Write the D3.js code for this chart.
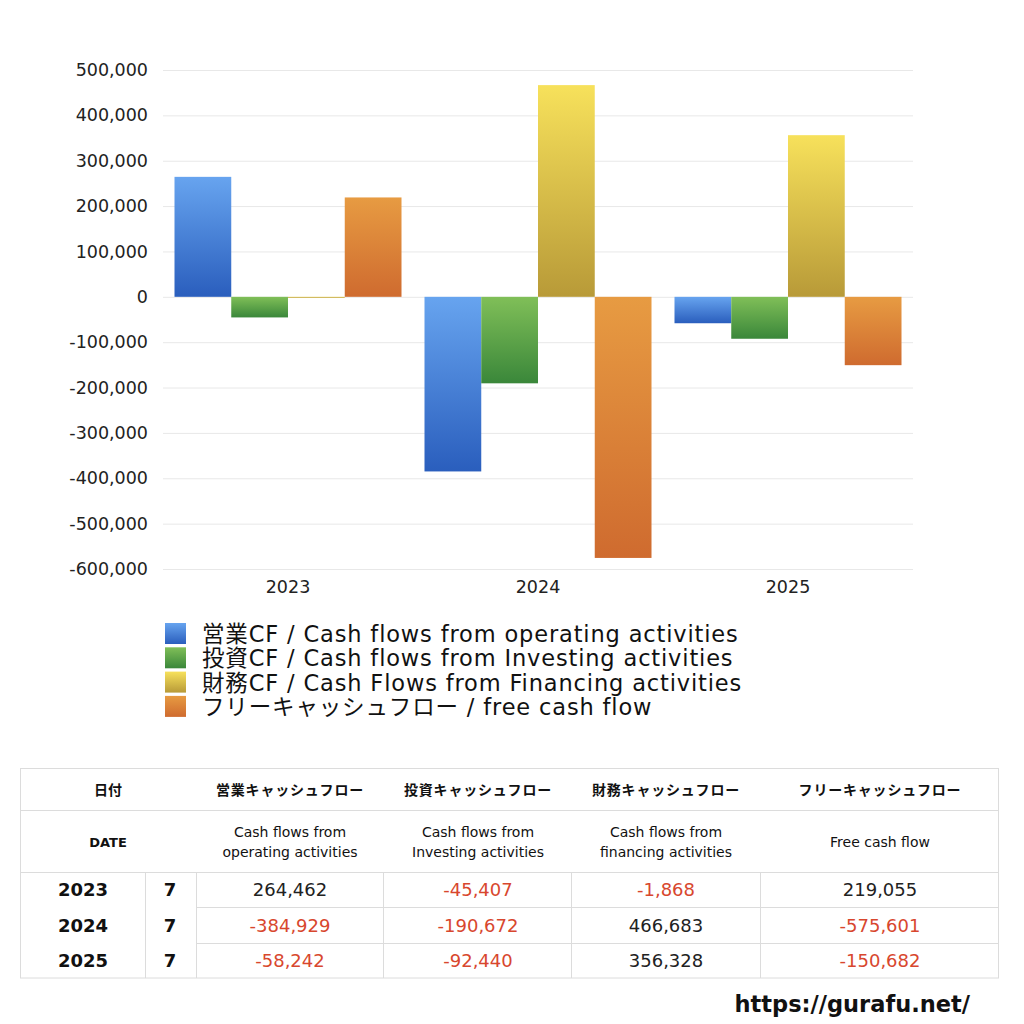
<!DOCTYPE html>
<html><head><meta charset="utf-8">
<script src="https://cdn.jsdelivr.net/npm/d3@7"></script>
<style>
html,body{margin:0;padding:0;background:#fff;}
svg text{font-family:"DejaVu Sans","Noto Sans CJK JP",sans-serif;}
</style></head>
<body><svg id="c" width="1024" height="1024"></svg>
<script>
const years = ["2023","2024","2025"];
const months = ["7","7","7"];
const operating = [264462, -384929, -58242];
const investing = [-45407, -190672, -92440];
const financing = [-1868, 466683, 356328];
const freeCF = [219055, -575601, -150682];
const yTicks = [500000,400000,300000,200000,100000,0,-100000,-200000,-300000,-400000,-500000,-600000];
const legendLabels = ["営業CF / Cash flows from operating activities","投資CF / Cash flows from Investing activities","財務CF / Cash Flows from Financing activities","フリーキャッシュフロー / free cash flow"];
const headJP = ["営業キャッシュフロー","投資キャッシュフロー","財務キャッシュフロー","フリーキャッシュフロー"];
const headEN = [["Cash flows from","operating activities"],["Cash flows from","Investing activities"],["Cash flows from","financing activities"],["Free cash flow"]];
const gradStops = [["#67a4ef","#2a5ebd"],["#80bf58","#3a873a"],["#f7e15b","#b89a38"],["#e79b42","#cf6b2f"]];

const series = [operating, investing, financing, freeCF];
const fmt = d3.formatLocale({decimal:".",thousands:",",grouping:[3],currency:["",""],minus:"-"}).format(",");
const svg = d3.select("#c");
const defs = svg.append("defs");
gradStops.forEach((g,i)=>{
  const lg = defs.append("linearGradient").attr("id","g"+i).attr("x1",0).attr("y1",0).attr("x2",0).attr("y2",1);
  lg.append("stop").attr("offset","0%").attr("stop-color",g[0]);
  lg.append("stop").attr("offset","100%").attr("stop-color",g[1]);
});

const L=163, R=913;
const y = d3.scaleLinear().domain([-600000,500000]).range([569,70]);
const x0 = d3.scaleBand().domain(years).range([L,R]).paddingInner(0.092).paddingOuter(0.046);
const x1 = d3.scaleBand().domain(d3.range(4)).range([0,x0.bandwidth()]);

svg.append("g").selectAll("line").data(yTicks).join("line")
  .attr("x1",L).attr("x2",R).attr("y1",d=>y(d)+0.5).attr("y2",d=>y(d)+0.5)
  .attr("stroke","#e8e8e8").attr("stroke-width",1);

const yAxis = svg.append("g").attr("transform",`translate(${L},0)`)
  .call(d3.axisLeft(y).tickValues(yTicks).tickSize(0).tickPadding(15).tickFormat(fmt));
yAxis.select(".domain").remove();
yAxis.selectAll("text").attr("font-size",17.5).attr("fill","#222").style("font-family","'DejaVu Sans',sans-serif");

const xAxis = svg.append("g").attr("transform",`translate(0,575)`)
  .call(d3.axisBottom(x0).tickSize(0).tickPadding(2));
xAxis.select(".domain").remove();
xAxis.selectAll("text").attr("font-size",17.5).attr("fill","#222").attr("dy","0.9em").style("font-family","'DejaVu Sans',sans-serif");

years.forEach((yr,gi)=>{
  series.forEach((s,si)=>{
    const v = s[gi];
    svg.append("rect")
      .attr("x", x0(yr)+x1(si))
      .attr("width", x1.bandwidth())
      .attr("y", y(Math.max(0,v)))
      .attr("height", Math.max(1, Math.abs(y(v)-y(0))))
      .attr("fill", `url(#g${si})`);
  });
});

const lg = svg.append("g");
legendLabels.forEach((t,i)=>{
  const yy = 634 + i*24.3;
  lg.append("rect").attr("x",165).attr("y",yy-11).attr("width",21).attr("height",21).attr("fill",`url(#g${i})`);
  lg.append("text").attr("x",202).attr("y",yy).attr("dy","0.36em").attr("font-size",22.5).attr("letter-spacing",0.85).attr("fill","#111").text(t);
});

const tb = svg.append("g");
const lc = "#dcdcdc";
tb.append("rect").attr("x",20.5).attr("y",768.5).attr("width",978).attr("height",209.5).attr("fill","none").attr("stroke",lc);
[810,872].forEach(v=>tb.append("line").attr("x1",20).attr("x2",999).attr("y1",v+0.5).attr("y2",v+0.5).attr("stroke",lc));
[907,943].forEach(v=>tb.append("line").attr("x1",196).attr("x2",999).attr("y1",v+0.5).attr("y2",v+0.5).attr("stroke",lc));
[145,196,383,571,760].forEach(v=>tb.append("line").attr("x1",v+0.5).attr("x2",v+0.5).attr("y1",872).attr("y2",978).attr("stroke",lc));

tb.append("text").attr("x",108).attr("y",790).attr("dy","0.36em").attr("text-anchor","middle").attr("font-size",14).attr("font-weight","bold").attr("fill","#111").text("日付");
tb.append("text").attr("x",108).attr("y",842).attr("dy","0.36em").attr("text-anchor","middle").attr("font-size",13).attr("font-weight","bold").attr("fill","#111").text("DATE");
const hc = [290,478,666,880];
headJP.forEach((t,i)=>{
  tb.append("text").attr("x",hc[i]).attr("y",790).attr("dy","0.36em").attr("text-anchor","middle").attr("font-size",14).attr("letter-spacing",0.8).attr("font-weight","bold").attr("fill","#111").text(t);
  const en = headEN[i];
  en.forEach((line,j)=>{
    const yy = en.length===1 ? 842 : 832 + j*20;
    tb.append("text").attr("x",hc[i]).attr("y",yy).attr("dy","0.36em").attr("text-anchor","middle").attr("font-size",14).attr("fill","#111").text(line);
  });
});
years.forEach((yr,r)=>{
  const cy = [890,926,961][r];
  tb.append("text").attr("x",83).attr("y",cy).attr("dy","0.36em").attr("text-anchor","middle").attr("font-size",18).attr("font-weight","bold").attr("fill","#111").text(yr);
  tb.append("text").attr("x",170).attr("y",cy).attr("dy","0.36em").attr("text-anchor","middle").attr("font-size",18).attr("font-weight","bold").attr("fill","#111").text(months[r]);
  series.forEach((s,si)=>{
    const v = s[r];
    tb.append("text").attr("x",hc[si]).attr("y",cy).attr("dy","0.36em").attr("text-anchor","middle").attr("font-size",18)
      .attr("fill", v<0 ? "#d8472e" : "#222").text(fmt(v));
  });
});

svg.append("text").attr("x",970).attr("y",1004).attr("dy","0.36em").attr("text-anchor","end").attr("font-size",22.5).attr("font-weight","bold").attr("fill","#111").text("https://gurafu.net/");
</script></body></html>
